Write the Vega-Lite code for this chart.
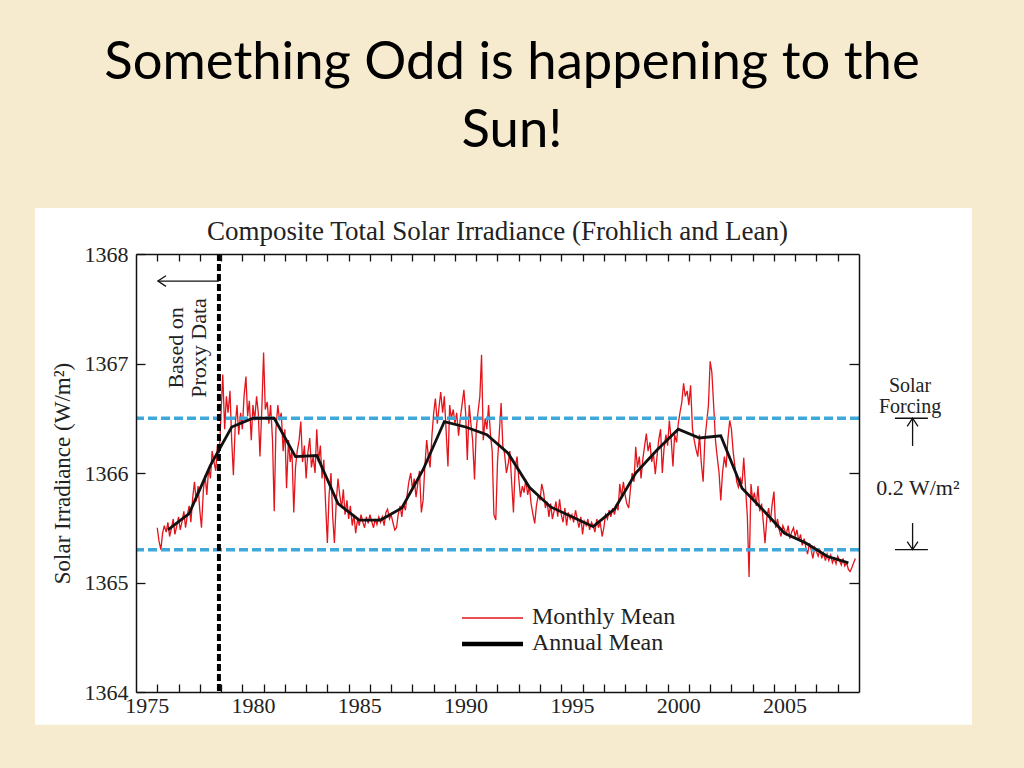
{
  "$schema": "https://vega.github.io/schema/vega-lite/v6.json",
  "width": 723,
  "height": 438,
  "autosize": {"type": "none"},
  "padding": {"left": 136, "top": 254, "right": 165, "bottom": 76},
  "background": "#f7ebcf",
  "title": {
    "text": ["Something Odd is happening to the", "Sun!"],
    "font": "Lato",
    "fontSize": 52.6,
    "fontWeight": "normal",
    "color": "#000000",
    "anchor": "middle",
    "frame": "group",
    "dx": 14.5,
    "lineHeight": 68,
    "offset": 50
  },
  "datasets": {
    "monthly": [
      {"year": 1975.50, "tsi": 1365.50}, {"year": 1975.58, "tsi": 1365.38}, {"year": 1975.67, "tsi": 1365.30}, {"year": 1975.75, "tsi": 1365.45}, {"year": 1975.83, "tsi": 1365.52}, {"year": 1975.92, "tsi": 1365.46},
      {"year": 1976.00, "tsi": 1365.55}, {"year": 1976.08, "tsi": 1365.42}, {"year": 1976.17, "tsi": 1365.50}, {"year": 1976.25, "tsi": 1365.58}, {"year": 1976.33, "tsi": 1365.44}, {"year": 1976.42, "tsi": 1365.52},
      {"year": 1976.50, "tsi": 1365.60}, {"year": 1976.58, "tsi": 1365.48}, {"year": 1976.67, "tsi": 1365.56}, {"year": 1976.75, "tsi": 1365.65}, {"year": 1976.83, "tsi": 1365.50}, {"year": 1976.92, "tsi": 1365.62},
      {"year": 1977.00, "tsi": 1365.70}, {"year": 1977.08, "tsi": 1365.55}, {"year": 1977.17, "tsi": 1365.78}, {"year": 1977.25, "tsi": 1365.92}, {"year": 1977.33, "tsi": 1365.74}, {"year": 1977.42, "tsi": 1365.88},
      {"year": 1977.50, "tsi": 1365.66}, {"year": 1977.58, "tsi": 1365.50}, {"year": 1977.67, "tsi": 1365.85}, {"year": 1977.75, "tsi": 1365.98}, {"year": 1977.83, "tsi": 1365.80}, {"year": 1977.92, "tsi": 1366.05},
      {"year": 1978.00, "tsi": 1365.95}, {"year": 1978.08, "tsi": 1366.20}, {"year": 1978.17, "tsi": 1366.10}, {"year": 1978.25, "tsi": 1366.02}, {"year": 1978.33, "tsi": 1366.25}, {"year": 1978.42, "tsi": 1366.18},
      {"year": 1978.50, "tsi": 1366.55}, {"year": 1978.58, "tsi": 1366.90}, {"year": 1978.67, "tsi": 1366.40}, {"year": 1978.75, "tsi": 1366.70}, {"year": 1978.83, "tsi": 1366.55}, {"year": 1978.92, "tsi": 1366.75},
      {"year": 1979.00, "tsi": 1366.30}, {"year": 1979.08, "tsi": 1365.98}, {"year": 1979.17, "tsi": 1366.45}, {"year": 1979.25, "tsi": 1366.62}, {"year": 1979.33, "tsi": 1366.35}, {"year": 1979.42, "tsi": 1366.55},
      {"year": 1979.50, "tsi": 1366.40}, {"year": 1979.58, "tsi": 1366.70}, {"year": 1979.67, "tsi": 1366.88}, {"year": 1979.75, "tsi": 1366.52}, {"year": 1979.83, "tsi": 1366.66}, {"year": 1979.92, "tsi": 1366.30},
      {"year": 1980.00, "tsi": 1366.62}, {"year": 1980.08, "tsi": 1366.48}, {"year": 1980.17, "tsi": 1366.70}, {"year": 1980.25, "tsi": 1366.55}, {"year": 1980.33, "tsi": 1366.15}, {"year": 1980.42, "tsi": 1366.60},
      {"year": 1980.50, "tsi": 1367.10}, {"year": 1980.58, "tsi": 1366.58}, {"year": 1980.67, "tsi": 1366.65}, {"year": 1980.75, "tsi": 1366.45}, {"year": 1980.83, "tsi": 1366.62}, {"year": 1980.92, "tsi": 1366.30},
      {"year": 1981.00, "tsi": 1365.65}, {"year": 1981.08, "tsi": 1366.40}, {"year": 1981.17, "tsi": 1366.62}, {"year": 1981.25, "tsi": 1366.48}, {"year": 1981.33, "tsi": 1366.55}, {"year": 1981.42, "tsi": 1366.20},
      {"year": 1981.50, "tsi": 1366.40}, {"year": 1981.58, "tsi": 1365.86}, {"year": 1981.67, "tsi": 1366.30}, {"year": 1981.75, "tsi": 1366.10}, {"year": 1981.83, "tsi": 1366.22}, {"year": 1981.92, "tsi": 1365.64},
      {"year": 1982.00, "tsi": 1366.05}, {"year": 1982.08, "tsi": 1366.20}, {"year": 1982.17, "tsi": 1366.30}, {"year": 1982.25, "tsi": 1366.47}, {"year": 1982.33, "tsi": 1366.10}, {"year": 1982.42, "tsi": 1366.25},
      {"year": 1982.50, "tsi": 1365.95}, {"year": 1982.58, "tsi": 1366.18}, {"year": 1982.67, "tsi": 1366.32}, {"year": 1982.75, "tsi": 1366.05}, {"year": 1982.83, "tsi": 1366.15}, {"year": 1982.92, "tsi": 1366.00},
      {"year": 1983.00, "tsi": 1366.40}, {"year": 1983.08, "tsi": 1366.10}, {"year": 1983.17, "tsi": 1366.25}, {"year": 1983.25, "tsi": 1365.95}, {"year": 1983.33, "tsi": 1366.12}, {"year": 1983.42, "tsi": 1365.70},
      {"year": 1983.50, "tsi": 1365.36}, {"year": 1983.58, "tsi": 1365.80}, {"year": 1983.67, "tsi": 1366.00}, {"year": 1983.75, "tsi": 1365.60}, {"year": 1983.83, "tsi": 1365.36}, {"year": 1983.92, "tsi": 1365.75},
      {"year": 1984.00, "tsi": 1365.95}, {"year": 1984.08, "tsi": 1365.80}, {"year": 1984.17, "tsi": 1365.68}, {"year": 1984.25, "tsi": 1365.85}, {"year": 1984.33, "tsi": 1365.62}, {"year": 1984.42, "tsi": 1365.75},
      {"year": 1984.50, "tsi": 1365.58}, {"year": 1984.58, "tsi": 1365.70}, {"year": 1984.67, "tsi": 1365.52}, {"year": 1984.75, "tsi": 1365.62}, {"year": 1984.83, "tsi": 1365.45}, {"year": 1984.92, "tsi": 1365.58},
      {"year": 1985.00, "tsi": 1365.52}, {"year": 1985.08, "tsi": 1365.62}, {"year": 1985.17, "tsi": 1365.55}, {"year": 1985.25, "tsi": 1365.50}, {"year": 1985.33, "tsi": 1365.60}, {"year": 1985.42, "tsi": 1365.54},
      {"year": 1985.50, "tsi": 1365.62}, {"year": 1985.58, "tsi": 1365.56}, {"year": 1985.67, "tsi": 1365.50}, {"year": 1985.75, "tsi": 1365.58}, {"year": 1985.83, "tsi": 1365.53}, {"year": 1985.92, "tsi": 1365.60},
      {"year": 1986.00, "tsi": 1365.55}, {"year": 1986.08, "tsi": 1365.60}, {"year": 1986.17, "tsi": 1365.52}, {"year": 1986.25, "tsi": 1365.64}, {"year": 1986.33, "tsi": 1365.67}, {"year": 1986.42, "tsi": 1365.58},
      {"year": 1986.50, "tsi": 1365.62}, {"year": 1986.58, "tsi": 1365.55}, {"year": 1986.67, "tsi": 1365.48}, {"year": 1986.75, "tsi": 1365.50}, {"year": 1986.83, "tsi": 1365.62}, {"year": 1986.92, "tsi": 1365.70},
      {"year": 1987.00, "tsi": 1365.60}, {"year": 1987.08, "tsi": 1365.72}, {"year": 1987.17, "tsi": 1365.66}, {"year": 1987.25, "tsi": 1365.80}, {"year": 1987.33, "tsi": 1365.92}, {"year": 1987.42, "tsi": 1366.00},
      {"year": 1987.50, "tsi": 1365.85}, {"year": 1987.58, "tsi": 1365.95}, {"year": 1987.67, "tsi": 1365.78}, {"year": 1987.75, "tsi": 1365.90}, {"year": 1987.83, "tsi": 1366.02}, {"year": 1987.92, "tsi": 1365.64},
      {"year": 1988.00, "tsi": 1365.75}, {"year": 1988.08, "tsi": 1366.05}, {"year": 1988.17, "tsi": 1366.30}, {"year": 1988.25, "tsi": 1366.15}, {"year": 1988.33, "tsi": 1366.05}, {"year": 1988.42, "tsi": 1366.35},
      {"year": 1988.50, "tsi": 1366.55}, {"year": 1988.58, "tsi": 1366.68}, {"year": 1988.67, "tsi": 1366.45}, {"year": 1988.75, "tsi": 1366.60}, {"year": 1988.83, "tsi": 1366.74}, {"year": 1988.92, "tsi": 1366.55},
      {"year": 1989.00, "tsi": 1366.70}, {"year": 1989.08, "tsi": 1366.40}, {"year": 1989.17, "tsi": 1366.06}, {"year": 1989.25, "tsi": 1366.62}, {"year": 1989.33, "tsi": 1366.50}, {"year": 1989.42, "tsi": 1366.58},
      {"year": 1989.50, "tsi": 1366.45}, {"year": 1989.58, "tsi": 1366.55}, {"year": 1989.67, "tsi": 1366.34}, {"year": 1989.75, "tsi": 1366.50}, {"year": 1989.83, "tsi": 1366.62}, {"year": 1989.92, "tsi": 1366.76},
      {"year": 1990.00, "tsi": 1366.55}, {"year": 1990.08, "tsi": 1366.12}, {"year": 1990.17, "tsi": 1366.62}, {"year": 1990.25, "tsi": 1366.45}, {"year": 1990.33, "tsi": 1366.30}, {"year": 1990.42, "tsi": 1365.94},
      {"year": 1990.50, "tsi": 1366.40}, {"year": 1990.58, "tsi": 1366.55}, {"year": 1990.67, "tsi": 1366.70}, {"year": 1990.75, "tsi": 1367.08}, {"year": 1990.83, "tsi": 1366.30}, {"year": 1990.92, "tsi": 1366.50},
      {"year": 1991.00, "tsi": 1366.40}, {"year": 1991.08, "tsi": 1366.62}, {"year": 1991.17, "tsi": 1366.35}, {"year": 1991.25, "tsi": 1366.20}, {"year": 1991.33, "tsi": 1365.62}, {"year": 1991.42, "tsi": 1365.57},
      {"year": 1991.50, "tsi": 1366.10}, {"year": 1991.58, "tsi": 1366.35}, {"year": 1991.67, "tsi": 1366.64}, {"year": 1991.75, "tsi": 1366.25}, {"year": 1991.83, "tsi": 1366.18}, {"year": 1991.92, "tsi": 1366.00},
      {"year": 1992.00, "tsi": 1366.08}, {"year": 1992.08, "tsi": 1366.20}, {"year": 1992.17, "tsi": 1365.90}, {"year": 1992.25, "tsi": 1365.64}, {"year": 1992.33, "tsi": 1366.05}, {"year": 1992.42, "tsi": 1366.15},
      {"year": 1992.50, "tsi": 1365.95}, {"year": 1992.58, "tsi": 1365.78}, {"year": 1992.67, "tsi": 1365.88}, {"year": 1992.75, "tsi": 1365.82}, {"year": 1992.83, "tsi": 1365.94}, {"year": 1992.92, "tsi": 1365.80},
      {"year": 1993.00, "tsi": 1365.88}, {"year": 1993.08, "tsi": 1365.72}, {"year": 1993.17, "tsi": 1365.62}, {"year": 1993.25, "tsi": 1365.54}, {"year": 1993.33, "tsi": 1365.70}, {"year": 1993.42, "tsi": 1365.80},
      {"year": 1993.50, "tsi": 1365.75}, {"year": 1993.58, "tsi": 1365.90}, {"year": 1993.67, "tsi": 1365.82}, {"year": 1993.75, "tsi": 1365.68}, {"year": 1993.83, "tsi": 1365.74}, {"year": 1993.92, "tsi": 1365.60},
      {"year": 1994.00, "tsi": 1365.72}, {"year": 1994.08, "tsi": 1365.58}, {"year": 1994.17, "tsi": 1365.66}, {"year": 1994.25, "tsi": 1365.74}, {"year": 1994.33, "tsi": 1365.60}, {"year": 1994.42, "tsi": 1365.76},
      {"year": 1994.50, "tsi": 1365.62}, {"year": 1994.58, "tsi": 1365.55}, {"year": 1994.67, "tsi": 1365.68}, {"year": 1994.75, "tsi": 1365.52}, {"year": 1994.83, "tsi": 1365.64}, {"year": 1994.92, "tsi": 1365.58},
      {"year": 1995.00, "tsi": 1365.62}, {"year": 1995.08, "tsi": 1365.55}, {"year": 1995.17, "tsi": 1365.66}, {"year": 1995.25, "tsi": 1365.58}, {"year": 1995.33, "tsi": 1365.50}, {"year": 1995.42, "tsi": 1365.60},
      {"year": 1995.50, "tsi": 1365.44}, {"year": 1995.58, "tsi": 1365.56}, {"year": 1995.67, "tsi": 1365.52}, {"year": 1995.75, "tsi": 1365.58}, {"year": 1995.83, "tsi": 1365.48}, {"year": 1995.92, "tsi": 1365.55},
      {"year": 1996.00, "tsi": 1365.52}, {"year": 1996.08, "tsi": 1365.46}, {"year": 1996.17, "tsi": 1365.58}, {"year": 1996.25, "tsi": 1365.50}, {"year": 1996.33, "tsi": 1365.55}, {"year": 1996.42, "tsi": 1365.42},
      {"year": 1996.50, "tsi": 1365.50}, {"year": 1996.58, "tsi": 1365.62}, {"year": 1996.67, "tsi": 1365.58}, {"year": 1996.75, "tsi": 1365.66}, {"year": 1996.83, "tsi": 1365.60}, {"year": 1996.92, "tsi": 1365.68},
      {"year": 1997.00, "tsi": 1365.62}, {"year": 1997.08, "tsi": 1365.70}, {"year": 1997.17, "tsi": 1365.66}, {"year": 1997.25, "tsi": 1365.90}, {"year": 1997.33, "tsi": 1365.78}, {"year": 1997.42, "tsi": 1365.92},
      {"year": 1997.50, "tsi": 1365.80}, {"year": 1997.58, "tsi": 1365.72}, {"year": 1997.67, "tsi": 1365.68}, {"year": 1997.75, "tsi": 1365.85}, {"year": 1997.83, "tsi": 1366.00}, {"year": 1997.92, "tsi": 1365.92},
      {"year": 1998.00, "tsi": 1366.24}, {"year": 1998.08, "tsi": 1366.05}, {"year": 1998.17, "tsi": 1366.15}, {"year": 1998.25, "tsi": 1365.95}, {"year": 1998.33, "tsi": 1366.12}, {"year": 1998.42, "tsi": 1366.25},
      {"year": 1998.50, "tsi": 1366.36}, {"year": 1998.58, "tsi": 1366.20}, {"year": 1998.67, "tsi": 1366.28}, {"year": 1998.75, "tsi": 1366.10}, {"year": 1998.83, "tsi": 1366.18}, {"year": 1998.92, "tsi": 1365.99},
      {"year": 1999.00, "tsi": 1366.15}, {"year": 1999.08, "tsi": 1366.30}, {"year": 1999.17, "tsi": 1366.40}, {"year": 1999.25, "tsi": 1366.00}, {"year": 1999.33, "tsi": 1366.22}, {"year": 1999.42, "tsi": 1366.35},
      {"year": 1999.50, "tsi": 1366.25}, {"year": 1999.58, "tsi": 1366.48}, {"year": 1999.67, "tsi": 1366.30}, {"year": 1999.75, "tsi": 1366.06}, {"year": 1999.83, "tsi": 1366.35}, {"year": 1999.92, "tsi": 1366.28},
      {"year": 2000.00, "tsi": 1366.45}, {"year": 2000.08, "tsi": 1366.55}, {"year": 2000.17, "tsi": 1366.65}, {"year": 2000.25, "tsi": 1366.82}, {"year": 2000.33, "tsi": 1366.70}, {"year": 2000.42, "tsi": 1366.75},
      {"year": 2000.50, "tsi": 1366.62}, {"year": 2000.58, "tsi": 1366.80}, {"year": 2000.67, "tsi": 1366.40}, {"year": 2000.75, "tsi": 1366.30}, {"year": 2000.83, "tsi": 1366.22}, {"year": 2000.92, "tsi": 1366.15},
      {"year": 2001.00, "tsi": 1366.35}, {"year": 2001.08, "tsi": 1366.10}, {"year": 2001.17, "tsi": 1365.92}, {"year": 2001.25, "tsi": 1366.30}, {"year": 2001.33, "tsi": 1366.45}, {"year": 2001.42, "tsi": 1366.62},
      {"year": 2001.50, "tsi": 1367.02}, {"year": 2001.58, "tsi": 1366.92}, {"year": 2001.67, "tsi": 1366.60}, {"year": 2001.75, "tsi": 1366.30}, {"year": 2001.83, "tsi": 1366.15}, {"year": 2001.92, "tsi": 1366.00},
      {"year": 2002.00, "tsi": 1365.75}, {"year": 2002.08, "tsi": 1366.00}, {"year": 2002.17, "tsi": 1366.15}, {"year": 2002.25, "tsi": 1366.05}, {"year": 2002.33, "tsi": 1366.30}, {"year": 2002.42, "tsi": 1366.48},
      {"year": 2002.50, "tsi": 1366.40}, {"year": 2002.58, "tsi": 1366.20}, {"year": 2002.67, "tsi": 1366.05}, {"year": 2002.75, "tsi": 1365.92}, {"year": 2002.83, "tsi": 1365.87}, {"year": 2002.92, "tsi": 1365.95},
      {"year": 2003.00, "tsi": 1365.90}, {"year": 2003.08, "tsi": 1366.14}, {"year": 2003.17, "tsi": 1365.85}, {"year": 2003.25, "tsi": 1365.60}, {"year": 2003.33, "tsi": 1365.05}, {"year": 2003.42, "tsi": 1365.90},
      {"year": 2003.50, "tsi": 1365.75}, {"year": 2003.58, "tsi": 1365.82}, {"year": 2003.67, "tsi": 1365.70}, {"year": 2003.75, "tsi": 1365.88}, {"year": 2003.83, "tsi": 1365.65}, {"year": 2003.92, "tsi": 1365.72},
      {"year": 2004.00, "tsi": 1365.55}, {"year": 2004.08, "tsi": 1365.36}, {"year": 2004.17, "tsi": 1365.60}, {"year": 2004.25, "tsi": 1365.68}, {"year": 2004.33, "tsi": 1365.55}, {"year": 2004.42, "tsi": 1365.72},
      {"year": 2004.50, "tsi": 1365.83}, {"year": 2004.58, "tsi": 1365.50}, {"year": 2004.67, "tsi": 1365.58}, {"year": 2004.75, "tsi": 1365.48}, {"year": 2004.83, "tsi": 1365.42}, {"year": 2004.92, "tsi": 1365.52},
      {"year": 2005.00, "tsi": 1365.48}, {"year": 2005.08, "tsi": 1365.44}, {"year": 2005.17, "tsi": 1365.52}, {"year": 2005.25, "tsi": 1365.40}, {"year": 2005.33, "tsi": 1365.46}, {"year": 2005.42, "tsi": 1365.50},
      {"year": 2005.50, "tsi": 1365.42}, {"year": 2005.58, "tsi": 1365.48}, {"year": 2005.67, "tsi": 1365.38}, {"year": 2005.75, "tsi": 1365.44}, {"year": 2005.83, "tsi": 1365.34}, {"year": 2005.92, "tsi": 1365.40},
      {"year": 2006.00, "tsi": 1365.32}, {"year": 2006.08, "tsi": 1365.26}, {"year": 2006.17, "tsi": 1365.36}, {"year": 2006.25, "tsi": 1365.30}, {"year": 2006.33, "tsi": 1365.22}, {"year": 2006.42, "tsi": 1365.32},
      {"year": 2006.50, "tsi": 1365.28}, {"year": 2006.58, "tsi": 1365.24}, {"year": 2006.67, "tsi": 1365.30}, {"year": 2006.75, "tsi": 1365.22}, {"year": 2006.83, "tsi": 1365.27}, {"year": 2006.92, "tsi": 1365.20},
      {"year": 2007.00, "tsi": 1365.26}, {"year": 2007.08, "tsi": 1365.20}, {"year": 2007.17, "tsi": 1365.25}, {"year": 2007.25, "tsi": 1365.18}, {"year": 2007.33, "tsi": 1365.22}, {"year": 2007.42, "tsi": 1365.17},
      {"year": 2007.50, "tsi": 1365.24}, {"year": 2007.58, "tsi": 1365.20}, {"year": 2007.67, "tsi": 1365.16}, {"year": 2007.75, "tsi": 1365.22}, {"year": 2007.83, "tsi": 1365.15}, {"year": 2007.92, "tsi": 1365.18},
      {"year": 2008.00, "tsi": 1365.12}, {"year": 2008.08, "tsi": 1365.10}, {"year": 2008.17, "tsi": 1365.14}, {"year": 2008.25, "tsi": 1365.18}, {"year": 2008.33, "tsi": 1365.22}
    ],
    "annual": [
      {"year": 1976, "tsi": 1365.48}, {"year": 1977, "tsi": 1365.63}, {"year": 1978, "tsi": 1366.07}, {"year": 1979, "tsi": 1366.42},
      {"year": 1980, "tsi": 1366.50}, {"year": 1981, "tsi": 1366.50}, {"year": 1982, "tsi": 1366.15}, {"year": 1983, "tsi": 1366.16},
      {"year": 1984, "tsi": 1365.72}, {"year": 1985, "tsi": 1365.57}, {"year": 1986, "tsi": 1365.57}, {"year": 1987, "tsi": 1365.68},
      {"year": 1988, "tsi": 1366.03}, {"year": 1989, "tsi": 1366.47}, {"year": 1990, "tsi": 1366.42}, {"year": 1991, "tsi": 1366.35},
      {"year": 1992, "tsi": 1366.18}, {"year": 1993, "tsi": 1365.87}, {"year": 1994, "tsi": 1365.69}, {"year": 1995, "tsi": 1365.60},
      {"year": 1996, "tsi": 1365.51}, {"year": 1997, "tsi": 1365.67}, {"year": 1998, "tsi": 1366.00}, {"year": 1999, "tsi": 1366.21},
      {"year": 2000, "tsi": 1366.40}, {"year": 2001, "tsi": 1366.32}, {"year": 2002, "tsi": 1366.34}, {"year": 2003, "tsi": 1365.86},
      {"year": 2004, "tsi": 1365.66}, {"year": 2005, "tsi": 1365.45}, {"year": 2006, "tsi": 1365.36}, {"year": 2007, "tsi": 1365.24},
      {"year": 2008, "tsi": 1365.18}
    ],
    "forcing": [{"level": 1366.5}, {"level": 1365.3}]
  },
  "layer": [
    {
      "data": {"values": [{}]},
      "mark": {"type": "rect", "fill": "#ffffff"},
      "encoding": {
        "x": {"datum": 1969.75, "type": "quantitative", "axis": null},
        "x2": {"datum": 2013.81},
        "y": {"datum": 1363.70, "type": "quantitative", "axis": null},
        "y2": {"datum": 1368.42}
      }
    },
    {
      "data": {"name": "monthly"},
      "mark": {"type": "line", "color": "#e3141b", "strokeWidth": 1.3},
      "encoding": {
        "x": {
          "field": "year", "type": "quantitative",
          "scale": {"domain": [1974.5, 2008.5], "nice": false, "zero": false},
          "axis": {
            "orient": "bottom", "title": null, "zindex": 2,
            "values": [1975, 1976, 1977, 1978, 1979, 1980, 1981, 1982, 1983, 1984, 1985, 1986, 1987, 1988, 1989, 1990, 1991, 1992, 1993, 1994, 1995, 1996, 1997, 1998, 1999, 2000, 2001, 2002, 2003, 2004, 2005, 2006, 2007],
            "tickOffset": 10.63, "labelOffset": -10.63, "tickSize": -8, "labelPadding": 11,
            "labelFontSize": 22, "labelFlush": false, "labelOverlap": false,
            "labelExpr": "datum.value % 5 === 0 ? format(datum.value, 'd') : ''"
          }
        },
        "y": {
          "field": "tsi", "type": "quantitative",
          "scale": {"domain": [1364, 1368], "nice": false, "zero": false},
          "axis": {
            "orient": "left", "title": "Solar Irradiance (W/m²)", "zindex": 2,
            "values": [1364, 1365, 1366, 1367, 1368], "format": "d",
            "tickSize": -9, "labelPadding": 17, "labelFontSize": 22, "labelFlush": false,
            "titleFontSize": 23, "titlePadding": 10
          }
        }
      }
    },
    {
      "data": {"name": "forcing"},
      "mark": {"type": "rule", "color": "#3ea8da", "strokeWidth": 3.5, "strokeDash": [9, 4]},
      "encoding": {
        "y": {"field": "level", "type": "quantitative", "axis": null}
      }
    },
    {
      "data": {"name": "annual"},
      "mark": {"type": "line", "color": "#111111", "strokeWidth": 2.8},
      "encoding": {
        "x": {
          "field": "year", "type": "quantitative",
          "scale": {"domain": [1974.5, 2008.5], "nice": false, "zero": false},
          "axis": {
            "orient": "top", "title": null, "labels": false, "zindex": 2,
            "values": [1975, 1976, 1977, 1978, 1979, 1980, 1981, 1982, 1983, 1984, 1985, 1986, 1987, 1988, 1989, 1990, 1991, 1992, 1993, 1994, 1995, 1996, 1997, 1998, 1999, 2000, 2001, 2002, 2003, 2004, 2005, 2006, 2007],
            "tickOffset": 10.63, "tickSize": -7
          }
        },
        "y": {
          "field": "tsi", "type": "quantitative",
          "scale": {"domain": [1364, 1368], "nice": false, "zero": false},
          "axis": {"orient": "right", "title": null, "labels": false, "zindex": 2, "values": [1365, 1366, 1367], "tickSize": -10}
        }
      }
    },
    {
      "data": {"values": [{}]},
      "mark": {"type": "rule", "color": "#000000", "strokeWidth": 4, "strokeDash": [7, 3]},
      "encoding": {"x": {"datum": 1978.4, "type": "quantitative", "axis": null}}
    },
    {
      "data": {"values": [{}]},
      "mark": {"type": "rule", "color": "#111111", "strokeWidth": 1.3},
      "encoding": {
        "x": {"datum": 1975.53, "type": "quantitative", "axis": null},
        "x2": {"datum": 1978.4},
        "y": {"datum": 1367.753, "type": "quantitative", "axis": null}
      }
    },
    {
      "data": {"values": [{}]},
      "mark": {"type": "point", "shape": "M0.9,-0.6L0,0L0.9,0.6", "size": 320, "filled": false, "color": "#111111", "strokeWidth": 1.3, "opacity": 1},
      "encoding": {
        "x": {"datum": 1975.53, "type": "quantitative", "axis": null},
        "y": {"datum": 1367.753, "type": "quantitative", "axis": null}
      }
    },
    {
      "data": {"values": [{}]},
      "mark": {"type": "text", "text": ["Based on", "Proxy Data"], "angle": 270, "align": "center", "baseline": "middle", "lineHeight": 23, "font": "Liberation Serif", "fontSize": 22, "color": "#222222"},
      "encoding": {
        "x": {"datum": 1976.4, "type": "quantitative", "axis": null},
        "y": {"datum": 1367.142, "type": "quantitative", "axis": null}
      }
    },
    {
      "data": {"values": [{}]},
      "mark": {"type": "text", "text": "Composite Total Solar Irradiance (Frohlich and Lean)", "align": "center", "baseline": "alphabetic", "font": "Liberation Serif", "fontSize": 27, "color": "#222222"},
      "encoding": {
        "x": {"datum": 1991.5, "type": "quantitative", "axis": null},
        "y": {"datum": 1368.131, "type": "quantitative", "axis": null}
      }
    },
    {
      "data": {"values": [{}]},
      "mark": {"type": "rule", "color": "#e3141b", "strokeWidth": 1.5},
      "encoding": {
        "x": {"datum": 1989.83, "type": "quantitative", "axis": null},
        "x2": {"datum": 1992.7},
        "y": {"datum": 1364.676, "type": "quantitative", "axis": null}
      }
    },
    {
      "data": {"values": [{}]},
      "mark": {"type": "rule", "color": "#000000", "strokeWidth": 4.5},
      "encoding": {
        "x": {"datum": 1989.83, "type": "quantitative", "axis": null},
        "x2": {"datum": 1992.7},
        "y": {"datum": 1364.438, "type": "quantitative", "axis": null}
      }
    },
    {
      "data": {"values": [{}]},
      "mark": {"type": "text", "text": "Monthly Mean", "align": "left", "baseline": "middle", "font": "Liberation Serif", "fontSize": 24, "color": "#222222"},
      "encoding": {
        "x": {"datum": 1993.12, "type": "quantitative", "axis": null},
        "y": {"datum": 1364.685, "type": "quantitative", "axis": null}
      }
    },
    {
      "data": {"values": [{}]},
      "mark": {"type": "text", "text": "Annual Mean", "align": "left", "baseline": "middle", "font": "Liberation Serif", "fontSize": 24, "color": "#222222"},
      "encoding": {
        "x": {"datum": 1993.12, "type": "quantitative", "axis": null},
        "y": {"datum": 1364.445, "type": "quantitative", "axis": null}
      }
    },
    {
      "data": {"values": [{}]},
      "mark": {"type": "text", "text": ["Solar", "Forcing"], "align": "center", "baseline": "alphabetic", "lineHeight": 21, "font": "Liberation Serif", "fontSize": 20, "color": "#222222"},
      "encoding": {
        "x": {"datum": 2010.9, "type": "quantitative", "axis": null},
        "y": {"datum": 1366.74, "type": "quantitative", "axis": null}
      }
    },
    {
      "data": {"name": "forcing"},
      "mark": {"type": "rule", "color": "#111111", "strokeWidth": 1.3},
      "encoding": {
        "x": {"datum": 2010.19, "type": "quantitative", "axis": null},
        "x2": {"datum": 2011.74},
        "y": {"field": "level", "type": "quantitative", "axis": null}
      }
    },
    {
      "data": {"values": [{}]},
      "mark": {"type": "rule", "color": "#111111", "strokeWidth": 1.3},
      "encoding": {
        "x": {"datum": 2011.02, "type": "quantitative", "axis": null},
        "y": {"datum": 1366.5, "type": "quantitative", "axis": null},
        "y2": {"datum": 1366.247}
      }
    },
    {
      "data": {"values": [{}]},
      "mark": {"type": "point", "shape": "M-0.6,0.9L0,0L0.6,0.9", "size": 320, "filled": false, "color": "#111111", "strokeWidth": 1.3, "opacity": 1},
      "encoding": {
        "x": {"datum": 2011.02, "type": "quantitative", "axis": null},
        "y": {"datum": 1366.5, "type": "quantitative", "axis": null}
      }
    },
    {
      "data": {"values": [{}]},
      "mark": {"type": "text", "text": "0.2 W/m²", "align": "center", "baseline": "alphabetic", "font": "Liberation Serif", "fontSize": 22, "color": "#222222"},
      "encoding": {
        "x": {"datum": 2011.27, "type": "quantitative", "axis": null},
        "y": {"datum": 1365.799, "type": "quantitative", "axis": null}
      }
    },
    {
      "data": {"values": [{}]},
      "mark": {"type": "rule", "color": "#111111", "strokeWidth": 1.3},
      "encoding": {
        "x": {"datum": 2011.02, "type": "quantitative", "axis": null},
        "y": {"datum": 1365.543, "type": "quantitative", "axis": null},
        "y2": {"datum": 1365.3}
      }
    },
    {
      "data": {"values": [{}]},
      "mark": {"type": "point", "shape": "M-0.6,-0.9L0,0L0.6,-0.9", "size": 320, "filled": false, "color": "#111111", "strokeWidth": 1.3, "opacity": 1},
      "encoding": {
        "x": {"datum": 2011.02, "type": "quantitative", "axis": null},
        "y": {"datum": 1365.3, "type": "quantitative", "axis": null}
      }
    }
  ],
  "resolve": {"axis": {"x": "independent", "y": "independent"}},
  "config": {
    "view": {"stroke": "#111111", "strokeWidth": 1.5},
    "font": "Liberation Serif",
    "axis": {
      "grid": false,
      "domainColor": "#111111",
      "domainWidth": 1.5,
      "tickColor": "#111111",
      "tickWidth": 1.3,
      "labelColor": "#222222",
      "titleColor": "#222222",
      "labelFont": "Liberation Serif",
      "titleFont": "Liberation Serif",
      "titleFontWeight": "normal"
    }
  }
}
